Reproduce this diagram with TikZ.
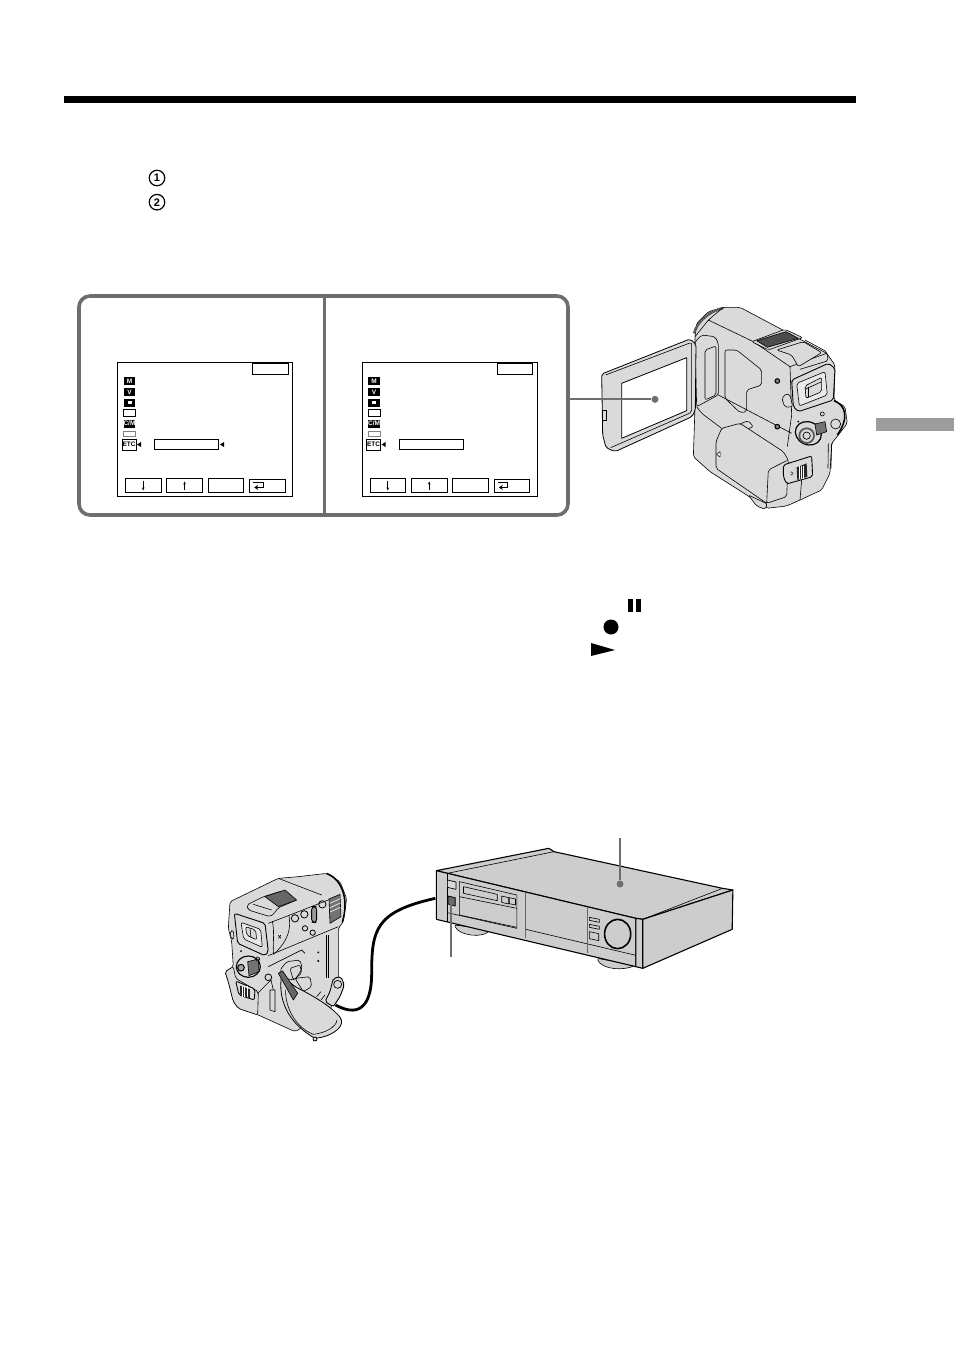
\documentclass[tikz,border=0pt]{standalone}
\usepackage{fontspec}
\setmainfont{Liberation Sans}
\usepackage{tikz}
\usetikzlibrary{calc,positioning,arrows.meta}
\definecolor{frameg}{HTML}{6E6E6E}
\definecolor{bodyg}{HTML}{DADADA}
\definecolor{topg}{HTML}{CDCDCD}
\definecolor{tabg}{HTML}{9C9C9C}
\begin{document}
\begin{tikzpicture}[x=1pt,y=-1pt]
\tikzstyle{num}=[draw, circle, line width=1.2pt, inner sep=0pt, minimum size=15.5pt, font=\bfseries\fontsize{11}{11}\selectfont]
\tikzstyle{btn}=[draw, line width=0.9pt, inner sep=0pt, minimum width=35.5pt, minimum height=14pt, anchor=north west]
\tikzstyle{ico}=[fill=black, text=white, inner sep=0pt, minimum width=11.5pt, minimum height=8pt, font=\bfseries\fontsize{6.5}{6.5}\selectfont]
\tikzstyle{icoline}=[draw, line width=0.7pt, inner sep=0pt, minimum width=11.5pt, minimum height=7.5pt]
\tikzstyle{ptr}=[draw=frameg, line width=2pt]
\tikzstyle{ln}=[draw=black, line width=0.6pt, line join=round, rounded corners=2pt]
\tikzstyle{pl}=[draw=black, line width=0.6pt, line join=round]
\tikzstyle{hv}=[draw=black, line width=1.1pt, line join=round]
\tikzstyle{blob}=[circle, fill=frameg, inner sep=0pt, minimum size=7pt]
\pgfmathsetmacro{\gp}{5}
\useasboundingbox (0,0) rectangle (954,1352);
\fill[white] (0,0) rectangle (954,1352);

% page marks
\fill[black] (64,96) rectangle (856,103);
\fill[tabg] (876,418) rectangle (954,431);
\node[num] (one) at (157,178) {1};
\node[num, below = 7.5pt of one] (two) {2};

% menu panel
\node[draw=frameg, line width=3.6pt, rounded corners=11pt, minimum width=489pt, minimum height=219pt] (panel) at (323.5,405.5) {};
\coordinate (divT) at (panel.north -| 324.5,0);
\coordinate (divB) at (panel.south -| 324.5,0);
\draw[draw=frameg, line width=2.4pt] (divT) -- (divB);

\foreach \s/\xx in {a/117, b/361.6}{
\begin{scope}[shift={(\xx,362)}]
\node[draw, line width=1.3pt, inner sep=0pt, minimum width=175pt, minimum height=134pt, anchor=north west] (scr\s) at (0,0) {};
\node[draw, line width=0.9pt, inner sep=0pt, minimum width=35.5pt, minimum height=11pt, anchor=north east] (tag\s) at (171.5,1) {};
\node[ico] (mm\s) at (12.5,19) {M};
\node[ico] (vv\s) at (12.5,30) {V};
\node[ico] (pl\s) at (12.5,40.5) {};
\node[fill=white, inner sep=0pt, minimum width=4pt, minimum height=3pt] at (pl\s) {};
\node[icoline] (lc\s) at (12.5,51) {};
\node[ico] (cm\s) at (12.5,61.5) {C/M};
\node[icoline, draw=gray, minimum height=5pt] (tp\s) at (12.5,72) {};
\node[draw, line width=1pt, inner sep=0pt, minimum width=14pt, minimum height=11pt, font=\bfseries\fontsize{6.5}{6.5}\selectfont] (etc\s) at (12,82.5) {ETC};
\fill (24,80) -- (20,82.5) -- (24,85) -- cycle;
\node[draw, line width=0.9pt, inner sep=0pt, minimum width=64pt, minimum height=10.5pt, anchor=west] (inp\s) at (37,82.5) {};
\node[btn] (dn\s) at (8,116) {};
\node[btn, right = \gp of dn\s] (up\s) {};
\node[btn, right = \gp of up\s] (set\s) {};
\node[btn, right = \gp of set\s, minimum height=13pt] (ret\s) {};
\draw[-{Stealth[length=3pt,width=2.6pt]}, line width=0.7pt] ([yshift=4pt]dn\s.center) -- ([yshift=-5pt]dn\s.center);
\draw[-{Stealth[length=3pt,width=2.6pt]}, line width=0.7pt] ([yshift=-5pt]up\s.center) -- ([yshift=4pt]up\s.center);
\draw[-{Stealth[length=4pt,width=5pt]}, line width=0.9pt] ([xshift=4pt,yshift=3pt]ret\s.west) -- ([xshift=14pt,yshift=3pt]ret\s.west) -- ([xshift=14pt,yshift=-2pt]ret\s.west) -- ([xshift=5pt,yshift=-2pt]ret\s.west);
\end{scope}
}
\fill (224,442) -- (220,444.5) -- (224,447) -- cycle;

% camera, lcd open
\begin{scope}[shift={(690,300)}, x=0.3333pt, y=-0.3333pt]
\path[ln, fill=bodyg] (15,110) -- (20,70) -- (55,35) -- (100,22) -- (150,22) -- (410,160) -- (435,195) -- (432,300) -- (465,320) -- (472,370) -- (445,405) -- (425,430) -- (420,520) -- (395,570) -- (330,600) -- (290,618) -- (230,625) -- (170,585) -- (60,515) -- (10,470) -- (15,320) -- cycle;
\draw[line width=2.6pt, draw=black!70, dash pattern=on 1.2pt off 0.5pt] (12,100) .. controls (22,65) and (55,35) .. (100,24);
\draw[ln] (55,60) -- (190,125);
\draw[ln] (100,22) -- (55,60) -- (15,110);
\path[ln, fill=bodyg] (15,125) -- (35,105) -- (75,110) -- (85,130) -- (85,285) -- (20,320) -- cycle;
\draw[ln] (45,150) -- (78,138) -- (78,285) -- (45,300) -- cycle;
\draw[ln] (105,150) -- (140,150) -- (215,210) -- (215,255) -- (170,270) -- (170,335) -- (150,338) -- (105,295) -- cycle;
\draw[ln] (85,285) -- (305,400);
\draw[ln] (20,320) -- (35,340) -- (95,385);
\draw[pl] (300,200) -- (305,345) -- (292,440);
\draw[pl] (190,125) -- (300,200) -- (410,160);
% grille and shoe
\path[ln, fill=bodyg] (185,125) -- (285,88) -- (338,113) -- (235,150) -- cycle;
\path[pl, fill=black!70] (200,122) -- (288,95) -- (325,115) -- (232,142) -- cycle;
\path[ln, fill=bodyg] (260,150) -- (340,125) -- (395,158) -- (325,200) -- (305,165) -- cycle;
\draw[ln] (345,120) -- (410,155) -- (415,182) -- (330,208);
% eyepiece
\path[ln, fill=bodyg, line width=0.9pt] (305,240) -- (415,190) -- (435,205) -- (430,300) -- (325,335) -- (310,320) -- cycle;
\path[ln, fill=bodyg!60!white] (320,250) -- (405,215) -- (412,285) -- (328,318) -- cycle;
\path[ln, fill=bodyg] (345,258) -- (395,232) -- (395,275) -- (348,295) -- cycle;
\draw[pl] (355,262) -- (355,290);
\draw[pl] (345,268) -- (393,246);
\path[ln, fill=bodyg] (275,295) -- (290,280) -- (300,285) -- (308,320) -- (285,322) -- cycle;
\draw[line width=1pt, fill=black!50] (262,243) circle (7);
\draw[line width=1pt, fill=black!50] (262,380) circle (7);
\path[ln, fill=bodyg] (142,375) -- (175,362) -- (190,380) -- (160,392) -- cycle;
% dial
\draw[line width=0.6pt] (397,342) circle (6);
\fill (325,365) circle (3);
\path[draw=black, fill=bodyg, line width=1.2pt, rotate around={-25:(355,400)}] (355,400) ellipse (40 and 34);
\draw[line width=1.8pt, draw=black!65, fill=bodyg] (350,407) circle (22);
\draw[line width=0.7pt] (350,407) circle (11);
\path[draw=black, fill=black!55, line width=0.6pt] (375,372) -- (405,365) -- (410,395) -- (380,405) -- cycle;
\draw[line width=0.6pt, fill=bodyg] (437,372) circle (15);
\draw[line width=1.5pt] (432,302) .. controls (465,315) and (480,350) .. (442,405);
\draw[pl] (415,430) -- (414,505);
\draw[pl] (425,430) -- (423,505);
% battery
\path[ln, fill=bodyg] (78,425) -- (95,385) -- (150,370) -- (280,455) -- (295,480) -- (290,590) -- (230,610) -- (78,505) -- cycle;
\path[pl, fill=white, line width=0.5pt] (90,455) -- (80,463) -- (90,471) -- cycle;
\draw[ln] (230,610) -- (235,510) -- (290,482);
\draw[pl] (330,600) -- (335,540);
% slider
\path[ln, fill=bodyg, line width=0.9pt] (280,495) -- (365,468) -- (368,530) -- (290,552) -- (280,530) -- cycle;
\path[fill=black!85] (320,502) -- (350,490) -- (352,530) -- (322,540) -- cycle;
\foreach \k in {327,334,341}{\draw[white, line width=0.7pt] (\k,497) -- (\k,537);}
\path[pl, fill=white, line width=0.4pt] (303,515) -- (310,520) -- (303,526) -- cycle;
% foot
\path[ln, fill=bodyg] (175,585) -- (200,618) -- (225,628) -- (232,612) -- cycle;
\end{scope}
\begin{scope}[shift={(590,295)}, x=0.3333pt, y=-0.3333pt]
% lcd panel
\path[ln, fill=bodyg, line width=0.8pt] (35,237) -- (300,132) -- (318,148) -- (316,345) -- (306,365) -- (75,470) -- (48,458) -- (38,420) -- cycle;
\path[pl, fill=white, line width=0.8pt] (95,265) -- (290,188) -- (290,347) -- (95,430) -- cycle;
\draw[ln] (47,240) -- (305,142) -- (305,352) -- (62,458);
\path[pl, fill=bodyg] (38,345) rectangle (50,375);
\coordinate (lcd) at (195,313);
\end{scope}
\node[blob] (lcdDot) at (lcd) {};
\coordinate (panelR) at (panel.east |- lcd);
\draw[ptr] (panelR) -- (lcdDot);

% transport symbols
\fill (628,599) rectangle (633,612);
\fill (636,599) rectangle (641,612);
\node[circle, fill=black, inner sep=0pt, minimum size=15pt] (recdot) at (611,627) {};
\fill (591,643) -- (615,650) -- (591,656) -- cycle;

% vcr
\begin{scope}[shift={(210,830)}, x=0.344pt, y=-0.3333pt]
\path[ln, fill=topg] (710,285) .. controls (725,318) and (795,325) .. (815,298) -- cycle;
\path[ln, fill=topg] (1125,385) .. controls (1140,420) and (1205,422) .. (1238,405) -- cycle;
\path[hv, fill=topg] (658,122) -- (985,55) -- (1000,65) -- (1490,175) -- (1520,180) -- (1258,268) -- (1238,265) -- cycle;
\draw[pl] (690,130) -- (1000,65);
\draw[pl] (1490,175) -- (1258,268);
\path[hv, fill=topg] (658,122) -- (1238,265) -- (1238,410) -- (658,268) -- cycle;
\draw[pl] (690,130) -- (690,276);
\path[hv, fill=topg] (1238,265) -- (1258,268) -- (1258,415) -- (1238,410) -- cycle;
\path[hv, fill=topg] (1258,268) -- (1520,180) -- (1518,298) -- (1258,415) -- cycle;
\path[pl, fill=bodyg, line width=0.7pt] (690,150) -- (715,156) -- (715,178) -- (690,172) -- cycle;
\path[pl, fill=black!60, line width=0.7pt] (692,198) -- (713,203) -- (713,228) -- (692,222) -- cycle;
\coordinate (jackB) at (655,205);
\draw[pl] (725,155) -- (892,195) -- (892,292) -- (725,255) -- cycle;
\draw[pl] (737,170) -- (835,193) -- (835,212) -- (737,190) -- cycle;
\draw[pl] (725,200) -- (892,235);
\draw[pl] (848,198) -- (868,203) -- (868,222) -- (848,217) -- cycle;
\draw[pl] (870,203) -- (888,207) -- (888,225) -- (870,221) -- cycle;
\draw[pl] (690,248) -- (892,295);
\draw[pl] (918,298) -- (1238,376);
\draw[draw=black!60, line width=1pt] (918,190) -- (918,325);
\draw[draw=black!60, line width=1pt] (1097,230) -- (1097,368);
\draw[pl] (1103,262) -- (1132,268) -- (1132,277) -- (1103,271) -- cycle;
\draw[pl] (1103,283) -- (1132,289) -- (1132,298) -- (1103,292) -- cycle;
\draw[pl] (1103,305) -- (1130,311) -- (1130,332) -- (1103,326) -- cycle;
\draw[line width=1.6pt] (1185,312) ellipse (38 and 44);
\node[blob] (vcrDot) at (1192,162) {};
\coordinate (vcrTop) at (1192,25);
\node[blob, minimum size=4.5pt] (portDot) at (702,215) {};
\coordinate (portEnd) at (702,380);
\coordinate (jackA) at (365,525);
\draw[black, line width=2.8pt] (jackA) .. controls (445,570) and (470,510) .. (470,430) .. controls (470,300) and (480,245) .. (jackB);
\end{scope}
\draw[ptr] (vcrTop) -- (vcrDot);
\draw[ptr] (portEnd) -- (portDot);

% camera, side view
\begin{scope}[shift={(215,865)}, x=0.3333pt, y=-0.3333pt]
\path[ln, fill=bodyg] (45,110) -- (190,40) -- (250,35) -- (335,25) -- (375,50) -- (395,100) -- (385,170) -- (370,190) -- (370,340) -- (345,440) -- (240,500) -- (130,450) -- (70,430) -- (55,410) -- (40,350) -- (30,320) -- (55,305) -- (50,230) -- (40,190) -- cycle;
\draw[line width=1.5pt] (335,25) .. controls (375,40) and (405,95) .. (382,172);
\draw[pl] (190,40) -- (320,90);
\draw[pl] (160,175) -- (225,150) -- (365,95);
\path[ln, fill=bodyg] (95,120) -- (145,95) -- (200,78) -- (245,105) -- (190,128) -- (175,148) -- (165,155) -- (100,135) -- cycle;
\path[pl, fill=black!60] (150,95) -- (210,75) -- (245,105) -- (190,125) -- cycle;
\draw[pl] (115,118) -- (170,135);
\path[ln, fill=bodyg, line width=0.9pt] (58,145) -- (150,175) -- (160,260) -- (150,272) -- (68,235) -- cycle;
\path[ln, fill=bodyg!60!white] (78,172) -- (137,193) -- (142,247) -- (86,222) -- cycle;
\path[ln, fill=bodyg] (92,185) -- (122,195) -- (125,225) -- (95,210) -- cycle;
\draw[pl] (105,190) -- (108,218);
\path[ln, fill=bodyg] (45,198) -- (55,196) -- (57,222) -- (48,222) -- cycle;
\draw[pl] (172,168) .. controls (180,205) and (172,245) .. (176,268);
\draw[pl] (222,152) .. controls (228,190) and (222,225) .. (176,268);
\draw[pl] (190,210) -- (198,220);
\draw[pl] (198,210) -- (190,220);
\draw[line width=0.8pt] (240,160) circle (11);
\draw[line width=0.8pt] (268,148) circle (11);
\draw[line width=0.8pt] (322,118) circle (11);
\draw[line width=0.8pt] (270,190) circle (8);
\draw[line width=0.8pt] (293,203) circle (8);
\draw[line width=0.9pt, fill=black!40, rounded corners=3pt] (290,125) rectangle (305,172);
\path[pl, fill=black!55] (342,102) -- (375,88) -- (378,155) -- (345,175) -- cycle;
\foreach \k in {115,128,141}{\draw[white, line width=0.6pt] (345,\k) -- (376,\k-14);}
\draw[pl] (160,272) -- (370,185);
\draw[pl] (160,305) -- (260,255) -- (270,265);
\draw[pl] (335,210) -- (335,340);
\draw[pl] (340,210) -- (340,340);
\fill (310,262) circle (3);
\fill (310,288) circle (3.5);
\fill (78,258) circle (3);
% dial and switch
\draw[line width=1.1pt, fill=bodyg] (100,305) ellipse (36 and 32);
\draw[line width=1pt, fill=black!35] (78,308) circle (10);
\path[pl, fill=black!55] (98,290) -- (130,282) -- (132,320) -- (102,332) -- cycle;
\draw[line width=0.6pt] (128,282) circle (6);
\path[ln, fill=bodyg] (30,320) -- (55,305) -- (62,340) -- (130,380) -- (128,450) -- (70,430) -- (55,410) -- (40,350) -- cycle;
\path[ln, fill=bodyg, line width=0.9pt] (62,348) -- (120,372) -- (118,405) -- (72,390) -- cycle;
\path[fill=black!85] (75,362) -- (105,373) -- (105,400) -- (75,388) -- cycle;
\foreach \k in {82,89,96}{\draw[white, line width=0.7pt] (\k,364) -- (\k,396);}
\path[pl, fill=bodyg] (165,375) -- (180,375) -- (180,440) -- (165,435) -- cycle;
\draw[pl] (128,385) -- (168,345) -- (175,375);
% grip
\path[ln, fill=bodyg] (195,315) -- (215,290) -- (255,285) -- (262,310) -- (240,345) -- (205,340) -- cycle;
\draw[ln] (225,310) -- (255,300) -- (260,325) -- (235,345) -- cycle;
\path[ln, fill=bodyg] (240,340) -- (285,335) -- (290,365) -- (265,380) -- cycle;
\draw[line width=0.8pt, fill=bodyg] (160,337) circle (10);
% strap
\path[ln, fill=bodyg, line width=0.8pt] (200,330) .. controls (190,400) and (215,470) .. (300,520) .. controls (345,515) and (385,490) .. (378,460) .. controls (345,420) and (280,385) .. (240,365) -- cycle;
\draw[pl] (212,375) .. controls (210,430) and (245,490) .. (295,508) .. controls (330,505) and (365,485) .. (366,465);
\path[pl, fill=black!60] (190,325) -- (203,318) -- (248,385) -- (235,405) -- cycle;
\draw[pl] (305,395) -- (318,380);
\draw[pl] (318,405) -- (330,390);
\path[ln, fill=bodyg, line width=0.9pt] (345,380) -- (355,340) -- (378,335) -- (388,360) -- (375,395) -- (355,425) -- (330,410) -- cycle;
\draw[line width=0.7pt] (368,358) circle (12);
\draw[line width=0.8pt, fill=bodyg] (300,522) circle (6);
\end{scope}
\end{tikzpicture}
\end{document}
